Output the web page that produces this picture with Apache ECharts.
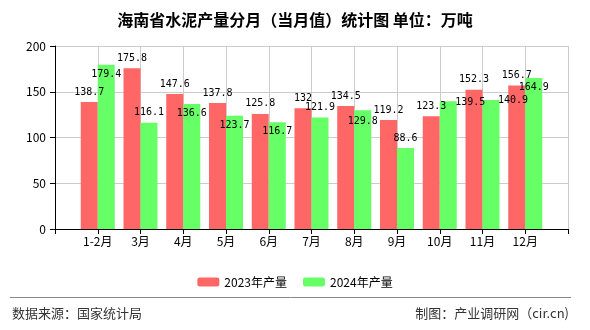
<!DOCTYPE html>
<html>
<head>
<meta charset="utf-8">
<script src="https://cdn.jsdelivr.net/npm/echarts@6/dist/echarts.min.js"></script>
<style>html,body{margin:0;padding:0;background:#fff;}#c{width:590px;height:330px;}</style>
</head>
<body>
<div id="c"></div>
<script>
var months = ['1-2月','3月','4月','5月','6月','7月','8月','9月','10月','11月','12月'];
var values2023 = [138.7,175.8,147.6,137.8,125.8,132,134.5,119.2,123.3,152.3,156.7];
var values2024 = [179.4,116.1,136.6,123.7,116.7,121.9,129.8,88.6,139.5,140.9,164.9];
var yTicks = [0,50,100,150,200];
// label nudges for the 2024 series (layout only)
var offsets2024 = [[0,20],[0,0],[0,19],[0,20],[0,19],[0,0],[0,21],[0,0],[22,11],[22,10],[0,19]];

var cats = [''].concat(months).concat(['']);
function pad(arr, fn){
  var out = ['-'];
  arr.forEach(function(v,i){ out.push(fn ? fn(v,i) : v); });
  out.push('-');
  return out;
}
var labelFont = {fontFamily:'DejaVu Sans Mono', fontSize:10, color:'#000'};
var chart = echarts.init(document.getElementById('c'));
chart.setOption({
  animation:false,
  backgroundColor:'#fff',
  title:{text:'海南省水泥产量分月（当月值）统计图 单位：万吨', left:'center', top:7,
    textStyle:{fontFamily:'Noto Sans CJK SC', fontSize:16, fontWeight:'bold', color:'#000'}},
  grid:{left:55, right:22, top:46, bottom:101},
  legend:{top:271, left:'center', itemWidth:22, itemHeight:9, itemGap:16,
    textStyle:{fontFamily:'Noto Sans CJK SC', fontSize:12, color:'#000'},
    data:['2023年产量','2024年产量']},
  xAxis:{type:'category', data:cats, boundaryGap:false,
    axisLine:{lineStyle:{color:'#000'}},
    axisTick:{show:true, alignWithLabel:true, length:5, lineStyle:{color:'#000'}},
    axisLabel:{interval:0, color:'#000', fontFamily:'Noto Sans CJK SC', fontSize:12, margin:6},
    splitLine:{show:true, lineStyle:{color:'#ccc'}}},
  yAxis:{type:'value', min:yTicks[0], max:yTicks[yTicks.length-1], interval:50,
    axisLine:{show:true, lineStyle:{color:'#000'}},
    axisTick:{show:true, length:5, lineStyle:{color:'#000'}},
    axisLabel:{color:'#000', fontFamily:'Noto Sans CJK SC', fontSize:12, margin:9},
    splitLine:{show:true, lineStyle:{color:'#ccc'}}},
  series:[
    {name:'2023年产量', type:'bar', barWidth:17, barGap:'0%', itemStyle:{color:'#FF6666'},
      label:Object.assign({show:true, position:'top', distance:5}, labelFont),
      data:pad(values2023)},
    {name:'2024年产量', type:'bar', barWidth:17, barGap:'0%', itemStyle:{color:'#66FF66'},
      label:Object.assign({show:true, position:'top', distance:5}, labelFont),
      data:pad(values2024, function(v,i){ return {value:v, label:{offset:offsets2024[i]}}; })}
  ],
  graphic:[
    {type:'line', shape:{x1:10, y1:297.5, x2:571, y2:297.5}, style:{stroke:'#888', lineWidth:1}},
    {type:'text', left:12, top:307, style:{text:'数据来源：国家统计局', fontFamily:'Noto Sans CJK SC', fontSize:13, fill:'#333'}},
    {type:'text', right:21, top:307, style:{text:'制图：产业调研网（cir.cn)', fontFamily:'Noto Sans CJK SC', fontSize:13, fill:'#333'}}
  ]
});
</script>
</body>
</html>
